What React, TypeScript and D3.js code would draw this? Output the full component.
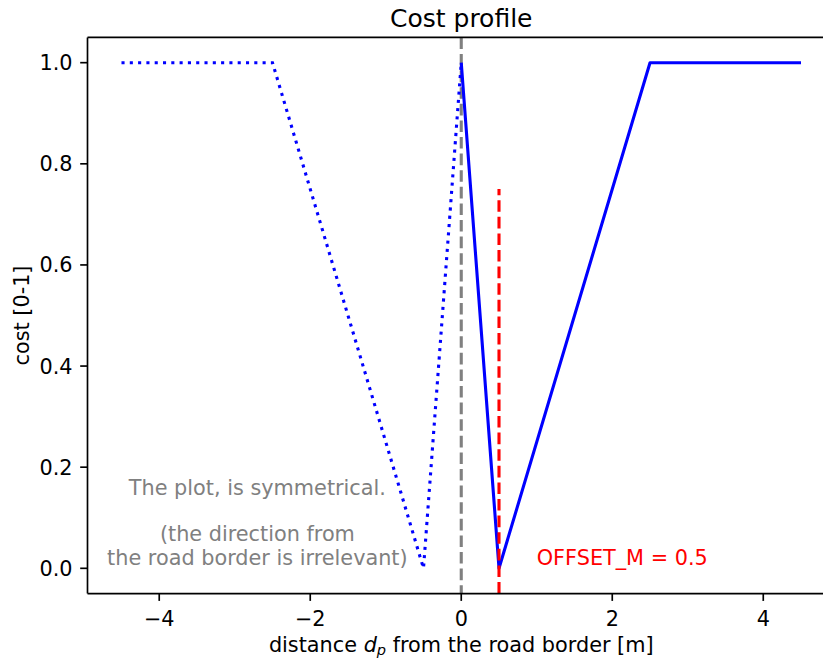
import React from "react";
import * as d3 from "d3";

const leftX = [-4.5, -2.5, -0.5, 0];
const leftY = [1, 1, 0, 1];
const rightX = [0, 0.5, 2.5, 4.5];
const rightY = [1, 0, 1, 1];
const offsetM = 0.5;
const offsetTop = 0.75;
const xTicks = [-4, -2, 0, 2, 4];
const yTicks = [0, 0.2, 0.4, 0.6, 0.8, 1.0];
const title = "Cost profile";
const yLabel = "cost [0-1]";
const noteLine1 = "The plot, is symmetrical.";
const noteLines2 = ["(the direction from", "the road border is irrelevant)"];
const offsetLabel = "OFFSET_M = 0.5";

const W = 823;
const H = 662;
const L = 87.5, R = 835, T = 37.4, B = 593.6;
const FONT = "DejaVu Sans, sans-serif";

export default function App() {
  const x = d3.scaleLinear().domain([-4.95, 4.95]).range([L, R]);
  const y = d3.scaleLinear().domain([-0.05, 1.05]).range([B, T]);
  const line = d3.line<[number, number]>().x(d => x(d[0])).y(d => y(d[1]));
  const leftPts = leftX.map((v, i) => [v, leftY[i]] as [number, number]);
  const rightPts = rightX.map((v, i) => [v, rightY[i]] as [number, number]);
  const fmtX = (v: number) => (v < 0 ? "\u2212" + Math.abs(v) : String(v));
  return (
    <svg width={W} height={H} style={{ position: "absolute", left: 0, top: 0, background: "#fff" }} fontFamily={FONT}>
      <rect x={0} y={0} width={W} height={H} fill="#fff" />
      <defs>
        <clipPath id="plotclip">
          <rect x={L} y={T} width={R - L} height={B - T} />
        </clipPath>
      </defs>
      <g clipPath="url(#plotclip)">
        <line x1={x(0)} x2={x(0)} y1={T} y2={B} stroke="#808080" strokeWidth={3.1} strokeDasharray="11.6 5" />
        <path d={line(leftPts) || ""} fill="none" stroke="#0000ff" strokeWidth={3.1} strokeDasharray="3.1 5.2" />
        <path d={line(rightPts) || ""} fill="none" stroke="#0000ff" strokeWidth={3.1} strokeLinejoin="round" />
        <line x1={x(offsetM)} x2={x(offsetM)} y1={B} y2={y(offsetTop)} stroke="#ff0000" strokeWidth={3.1} strokeDasharray="11.6 5" />
      </g>
      {/* annotations */}
      <text x={x(-2.7)} y={495} fontSize={20.8} fill="#808080" textAnchor="middle">{noteLine1}</text>
      {noteLines2.map((t, i) => (
        <text key={i} x={x(-2.7)} y={541 + i * 24.3} fontSize={20.8} fill="#808080" textAnchor="middle">{t}</text>
      ))}
      <text x={x(1.0)} y={565} fontSize={20.8} fill="#ff0000">{offsetLabel}</text>
      {/* spines */}
      <line x1={L} x2={L} y1={T} y2={B} stroke="#000" strokeWidth={1.67} />
      <line x1={L} x2={R} y1={T} y2={T} stroke="#000" strokeWidth={1.67} />
      <line x1={L} x2={R} y1={B} y2={B} stroke="#000" strokeWidth={1.67} />
      <line x1={R} x2={R} y1={T} y2={B} stroke="#000" strokeWidth={1.67} />
      {/* x ticks */}
      {xTicks.map(v => (
        <g key={v}>
          <line x1={x(v)} x2={x(v)} y1={B} y2={B + 7.3} stroke="#000" strokeWidth={1.67} />
          <text x={x(v)} y={626} fontSize={20.8} textAnchor="middle" fill="#000">{fmtX(v)}</text>
        </g>
      ))}
      {/* y ticks */}
      {yTicks.map(v => (
        <g key={v}>
          <line x1={L - 7.3} x2={L} y1={y(v)} y2={y(v)} stroke="#000" strokeWidth={1.67} />
          <text x={72.5} y={y(v)} dy="0.36em" fontSize={20.8} textAnchor="end" fill="#000">{v.toFixed(1)}</text>
        </g>
      ))}
      {/* title */}
      <text x={(L + R) / 2} y={27} fontSize={25} textAnchor="middle" fill="#000">{title}</text>
      {/* x label */}
      <text x={(L + R) / 2} y={651.5} fontSize={20.8} textAnchor="middle" fill="#000">
        <tspan>distance </tspan>
        <tspan fontStyle="italic">d</tspan>
        <tspan fontStyle="italic" fontSize={14.6} dy={3.5}>p</tspan>
        <tspan dy={-3.5}> from the road border [m]</tspan>
      </text>
      {/* y label */}
      <text transform={`translate(28.5, ${(T + B) / 2}) rotate(-90)`} fontSize={20.8} textAnchor="middle" fill="#000">{yLabel}</text>
    </svg>
  );
}
